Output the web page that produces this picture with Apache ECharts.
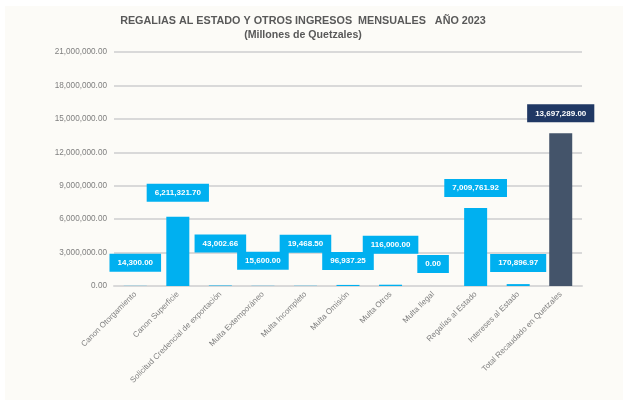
<!DOCTYPE html>
<html>
<head>
<meta charset="utf-8">
<script src="https://cdn.jsdelivr.net/npm/echarts@6/dist/echarts.min.js"></script>
<style>
  html, body { margin: 0; padding: 0; background: #ffffff; }
  #bg { position: absolute; left: 5px; top: 6px; width: 618px; height: 394px; background: #fcfbf7; }
  #chart { position: absolute; left: 0; top: 0; width: 623px; height: 400px; }
</style>
</head>
<body>
<div id="bg"></div>
<div id="chart"></div>
<script>
// Categories and amounts (Quetzales).
const categories = [
    'Canon Otorgamiento', 'Canon Superficie', 'Solicitud Credencial de exportación',
    'Multa Extemporáneo', 'Multa Incompleto', 'Multa Omisión', 'Multa Otros',
    'Multa Ilegal', 'Regalías al Estado', 'Intereses al Estado', 'Total Recaudado en Quetzales',
];
const values = [
    14300.00, 6211321.70, 43002.66, 15600.00, 19468.50, 96937.25,
    116000.00, 0.00, 7009761.92, 170896.97, 13697289.00,
];
const yTicks = { min: 0, max: 21000000, interval: 3000000 };

const BAR = '#00b0f0';
const TOTAL_BAR = '#44546a';
const TOTAL_LABEL = '#203864';
const GREY = '#7f7f7f';
const GRID = '#d9d9d9';
const FONT = '"Liberation Sans", Arial, sans-serif';

// Vertical nudges of the value boxes (Excel placed them to avoid overlap).
const labelShift = [-14, -15, -33, -16, -33, -15, -31, -13, -11, -12, -11];

const fmt = (v) => v.toLocaleString('en-US', { minimumFractionDigits: 2, maximumFractionDigits: 2 });

const totalIdx = values.length - 1;
const barData = values.map((v, i) => ({
    value: v,
    itemStyle: { color: i === totalIdx ? TOTAL_BAR : BAR },
    label: {
        offset: [0, labelShift[i]],
        backgroundColor: i === totalIdx ? TOTAL_LABEL : BAR,
    },
}));

const chart = echarts.init(document.getElementById('chart'), null, { renderer: 'canvas' });
chart.setOption({
    backgroundColor: 'transparent',
    animation: false,
    textStyle: { fontFamily: FONT },
    title: {
        text: 'REGALIAS AL ESTADO Y OTROS INGRESOS  MENSUALES   AÑO 2023',
        subtext: '(Millones de Quetzales)',
        left: 298,
        textAlign: 'center',
        top: 11,
        itemGap: 3,
        textStyle: { color: '#595959', fontSize: 10.8, fontWeight: 'bold', fontFamily: FONT },
        subtextStyle: { color: '#595959', fontSize: 10.6, fontWeight: 'bold', fontFamily: FONT },
    },
    grid: { left: 114, right: 41, top: 52, bottom: 114 },
    xAxis: {
        type: 'category',
        data: categories,
        axisTick: { show: false },
        axisLine: { lineStyle: { color: GRID, width: 2 } },
        axisLabel: { color: GREY, fontSize: 8, rotate: 45, margin: 7, interval: 0, fontFamily: FONT },
    },
    yAxis: {
        type: 'value',
        min: yTicks.min,
        max: yTicks.max,
        interval: yTicks.interval,
        axisLine: { show: false },
        axisTick: { show: false },
        splitLine: { lineStyle: { color: GRID, width: 2 } },
        axisLabel: { color: GREY, fontSize: 8.2, margin: 7, formatter: (v) => fmt(v), fontFamily: FONT },
    },
    series: [{
        type: 'bar',
        data: barData,
        barWidth: 23,
        label: {
            show: true,
            position: 'top',
            distance: 0,
            color: '#ffffff',
            fontSize: 8,
            fontWeight: 'bold',
            fontFamily: FONT,
            padding: [5, 8, 5, 8],
            formatter: (p) => fmt(p.value),
        },
    }],
});
</script>
</body>
</html>
